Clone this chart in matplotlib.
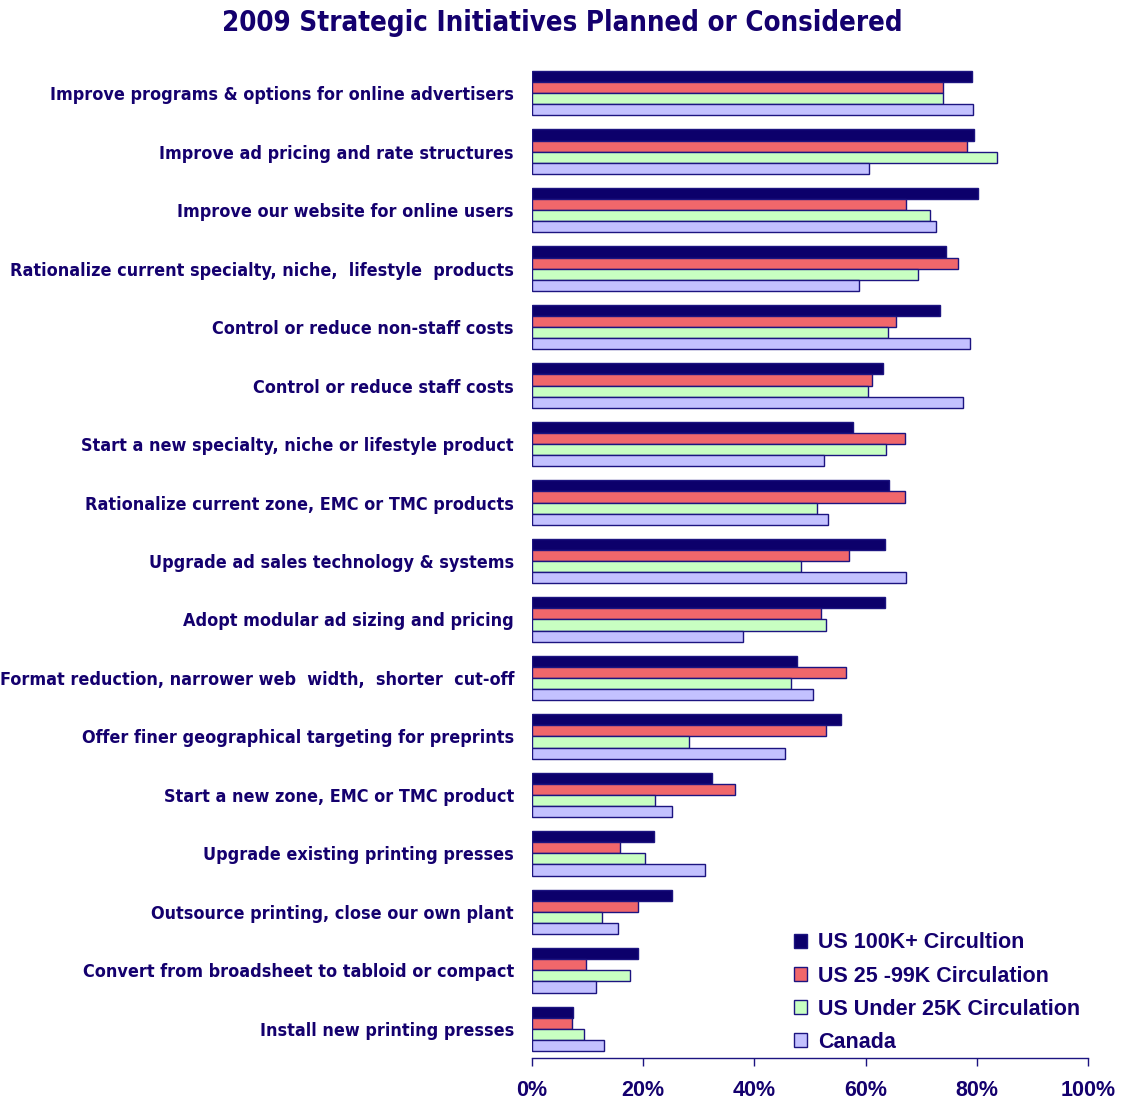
import matplotlib
matplotlib.use("Agg")
import matplotlib.pyplot as plt
import numpy as np
from matplotlib.ticker import FuncFormatter
from matplotlib import font_manager
from matplotlib.font_manager import FontProperties

categories = [
    "Improve programs & options for online advertisers",
    "Improve ad pricing and rate structures",
    "Improve our website for online users",
    "Rationalize current specialty, niche,  lifestyle  products",
    "Control or reduce non-staff costs",
    "Control or reduce staff costs",
    "Start a new specialty, niche or lifestyle product",
    "Rationalize current zone, EMC or TMC products",
    "Upgrade ad sales technology & systems",
    "Adopt modular ad sizing and pricing",
    "Format reduction, narrower web  width,  shorter  cut-off",
    "Offer finer geographical targeting for preprints",
    "Start a new zone, EMC or TMC product",
    "Upgrade existing printing presses",
    "Outsource printing, close our own plant",
    "Convert from broadsheet to tabloid or compact",
    "Install new printing presses",
]

us_100k = [79.1, 79.5, 80.2, 74.5, 73.4, 63.1, 57.7, 64.2, 63.4, 63.4, 47.7, 55.5, 32.3, 21.9, 25.1, 19.1, 7.3]
us_25_99k = [74.0, 78.3, 67.3, 76.6, 65.5, 61.2, 67.0, 67.0, 57.0, 51.9, 56.5, 52.9, 36.5, 15.8, 19.0, 9.7, 7.2]
us_under25k = [74.0, 83.7, 71.5, 69.4, 64.1, 60.5, 63.7, 51.2, 48.3, 52.9, 46.5, 28.3, 22.2, 20.4, 12.6, 17.6, 9.4]
canada = [79.4, 60.6, 72.7, 58.8, 78.8, 77.6, 52.6, 53.3, 67.3, 38.0, 50.5, 45.5, 25.1, 31.2, 15.5, 11.5, 12.9]

series_names = ["US 100K+ Circultion", "US 25 -99K Circulation", "US Under 25K Circulation", "Canada"]
xticks = [0, 20, 40, 60, 80, 100]

colors = ["#0C006B", "#F0676B", "#C8FFC2", "#C3C1FF"]
edge = "#1C1480"
text_color = "#14006E"

# find a condensed / narrow bold font if one is installed
narrow_file = None
cands = []
for f in font_manager.fontManager.ttflist:
    fn = f.fname.lower()
    if ("narrow" in fn or "condensed" in fn) and ("bold" in fn) and ("oblique" not in fn) and ("italic" not in fn):
        cands.append(f.fname)
pref = [c for c in cands if "liberation" in c.lower() or "arial" in c.lower()]
if pref:
    narrow_file = pref[0]
elif cands:
    cands.sort(key=lambda c: ("dejavu" not in c.lower(), "semi" in c.lower(), c))
    narrow_file = cands[0]

if narrow_file:
    label_fp = FontProperties(fname=narrow_file, size=15.5)
    title_fp = FontProperties(fname=narrow_file, size=21)
    if "dejavu" in narrow_file.lower():
        label_fp.set_size(12.85)
        title_fp.set_size(19.8)
else:
    label_fp = FontProperties(family="Liberation Sans", weight="bold", size=13)
    title_fp = FontProperties(family="Liberation Sans", weight="bold", size=20)

fig = plt.figure(figsize=(11.24, 11.02), dpi=100)
ax = fig.add_axes([532/1124, 1 - 1058/1102, (1088-532)/1124, (1058-64)/1102])

n = len(categories)
y = np.arange(n)
h = 0.19
all_series = [us_100k, us_25_99k, us_under25k, canada]
for i, (vals, c, name) in enumerate(zip(all_series, colors, series_names)):
    offs = (i - 1.5) * h
    ax.barh(y + offs, vals, height=h, color=c, edgecolor=edge, linewidth=1.0, label=name)

ax.set_ylim(n - 0.5, -0.5)
ax.set_xlim(0, 100)
ax.set_yticks(y)
ax.set_yticklabels(categories, fontproperties=label_fp, color=text_color)
ax.tick_params(axis="y", length=0, pad=13)
ax.set_xticks(xticks)
ax.xaxis.set_major_formatter(FuncFormatter(lambda v, p: f"{int(v)}%"))
for lab in ax.get_xticklabels():
    lab.set_fontsize(15.5)
    lab.set_fontweight("bold")
    lab.set_family("Liberation Sans")
    lab.set_color(text_color)
ax.tick_params(axis="x", length=6, width=1, color=edge, pad=10)
for s in ["top", "right", "left"]:
    ax.spines[s].set_visible(False)
ax.spines["bottom"].set_color(edge)
ax.spines["bottom"].set_linewidth(1)

fig.text(0.5, 1 - 23/1102, "2009 Strategic Initiatives Planned or Considered", ha="center", va="center",
         fontproperties=title_fp, color=text_color)

leg = ax.legend(loc="upper left", bbox_to_anchor=(788/1124, 1 - 926/1102), bbox_transform=fig.transFigure,
                frameon=False, handlelength=0.6, handleheight=0.6, handletextpad=0.5, labelspacing=0.56,
                borderaxespad=0, borderpad=0.3,
                prop={"family": "Liberation Sans", "weight": "bold", "size": 15.5})
for t in leg.get_texts():
    t.set_color(text_color)

fig.savefig("out.png", dpi=100)
